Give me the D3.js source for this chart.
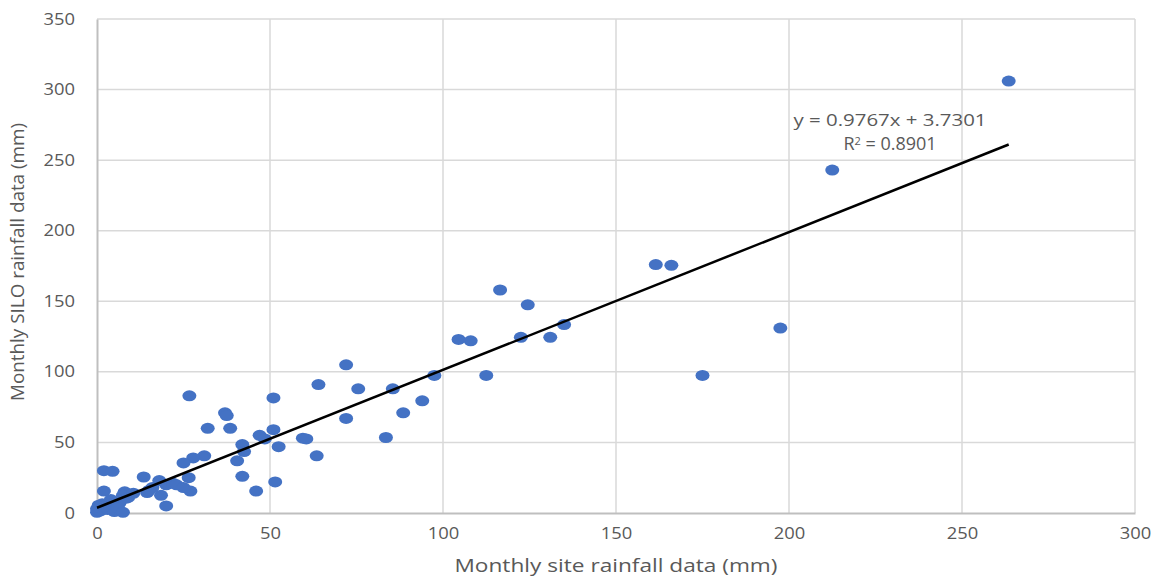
<!DOCTYPE html>
<html>
<head>
<meta charset="utf-8">
<script src="https://cdn.jsdelivr.net/npm/d3@7"></script>
<style>
  html, body { margin: 0; padding: 0; background: #ffffff; }
  svg { display: block; }
  text { font-family: "Open Sans", "Noto Sans", sans-serif; fill: #595959; }
</style>
</head>
<body>
<svg id="chart" width="1158" height="579"></svg>
<script>
// Monthly site rainfall (mm) against SILO rainfall (mm)
const siteRain = [
  263.5, 212.5, 161.5, 166, 197.5, 175, 116.5, 124.5, 135, 131, 122.5, 104.5, 108,
  112.5, 97.5, 94, 88.5, 85.5, 83.5, 72, 75.5, 72, 64, 63.5, 59.5, 60.5, 51, 51,
  52.5, 51.5, 47, 48.5, 46, 37, 37.5, 32, 38.5, 26.7, 42, 42.5, 40.5, 31, 27.8,
  25, 42, 27, 26.5, 20, 18.5, 13.5, 14.5, 16, 18, 20, 22, 23, 25, 15, 2, 4.5, 2,
  8, 7.5, 8.5, 5.5, 4, 6.5, 0.5, 1.5, 3.5, 0, 0, 1, 3, 5, 6, 7.5, 0.5, 2, 9, 10.5
];
const siloRain = [
  306, 243, 176, 175.5, 131, 97.5, 158, 147.5, 133.5, 124.5, 124.5, 123, 122,
  97.5, 97.5, 79.5, 71, 88, 53.5, 105, 88, 67, 91, 40.5, 53, 52.5, 81.5, 59,
  47, 22, 55, 52.5, 15.5, 71, 69, 60, 60, 83, 48.5, 43.5, 37, 40.5, 39,
  35.5, 26, 15.5, 25, 5, 12.5, 25.5, 14.5, 18, 23, 20, 21, 20, 18, 16, 30, 29.5, 15.5,
  15, 12.5, 10.5, 8, 9.5, 7, 5.5, 6.5, 6.5, 3, 0.5, 1.5, 2.5, 1, 3.5, 0.5, 4, 4.5, 11, 14
];
const xTicks = [0, 50, 100, 150, 200, 250, 300];
const yTicks = [0, 50, 100, 150, 200, 250, 300, 350];
const trendSlope = 0.9767;
const trendIntercept = 3.7301;
const rSquared = 0.8901;

const xTitle = "Monthly site rainfall data (mm)";
const yTitle = "Monthly SILO rainfall data (mm)";

const svg = d3.select("#chart");
const plot = { left: 97, right: 1135, top: 19, bottom: 513 };

const x = d3.scaleLinear().domain([0, 300]).range([plot.left, plot.right]);
const y = d3.scaleLinear().domain([0, 350]).range([plot.bottom, plot.top]);

// gridlines
const grid = svg.append("g");
grid.selectAll("line.h").data(yTicks.slice(1)).join("line")
  .attr("x1", plot.left).attr("x2", plot.right)
  .attr("y1", d => y(d)).attr("y2", d => y(d))
  .attr("stroke", "#d9d9d9").attr("stroke-width", 1.5);
grid.selectAll("line.v").data(xTicks.slice(1)).join("line")
  .attr("y1", plot.top).attr("y2", plot.bottom)
  .attr("x1", d => x(d)).attr("x2", d => x(d))
  .attr("stroke", "#d9d9d9").attr("stroke-width", 1.5);

// axes
const xAxis = svg.append("g").attr("transform", `translate(0,${plot.bottom})`)
  .call(d3.axisBottom(x).tickValues(xTicks).tickSize(0).tickPadding(15));
const yAxis = svg.append("g").attr("transform", `translate(${plot.left},0)`)
  .call(d3.axisLeft(y).tickValues(yTicks).tickSize(0).tickPadding(22));
[xAxis, yAxis].forEach(g => {
  g.select(".domain").attr("stroke", "#bfbfbf").attr("stroke-width", 2);
  g.selectAll("text").attr("font-size", 16).attr("fill", "#595959")
    .style("font-family", '"Open Sans", sans-serif')
    .attr("textLength", function () { return this.textContent.length * 10.5; })
    .attr("lengthAdjust", "spacingAndGlyphs");
});

// points
const pts = siteRain.map((v, i) => ({ sx: v, sy: siloRain[i] }));
svg.append("g").selectAll("ellipse").data(pts).join("ellipse")
  .attr("cx", d => x(d.sx)).attr("cy", d => y(d.sy))
  .attr("rx", 7).attr("ry", 5.5)
  .attr("fill", "#4472c4");

// linear trendline over the data range
const xMin = d3.min(siteRain), xMax = d3.max(siteRain);
svg.append("line")
  .attr("x1", x(xMin)).attr("y1", y(trendSlope * xMin + trendIntercept))
  .attr("x2", x(xMax)).attr("y2", y(trendSlope * xMax + trendIntercept))
  .attr("stroke", "#000").attr("stroke-width", 2.5);

// equation label
const eq = svg.append("g").attr("font-size", 17);
eq.append("text").attr("x", 890).attr("y", 126).attr("text-anchor", "middle")
  .attr("textLength", 193).attr("lengthAdjust", "spacingAndGlyphs")
  .text(`y = ${trendSlope}x + ${trendIntercept}`);
const r2 = eq.append("text").attr("x", 890).attr("y", 150).attr("text-anchor", "middle")
  .attr("font-size", 18);
r2.append("tspan").text("R");
r2.append("tspan").attr("dy", -5).attr("font-size", 11).text("2");
r2.append("tspan").attr("dy", 5).text(` = ${rSquared}`);

// axis titles
svg.append("text").attr("x", 616).attr("y", 572).attr("text-anchor", "middle")
  .attr("font-size", 18).attr("textLength", 323).attr("lengthAdjust", "spacingAndGlyphs")
  .text(xTitle);
svg.append("text").attr("transform", "translate(24,262) rotate(-90)")
  .attr("text-anchor", "middle").attr("font-size", 18)
  .attr("textLength", 278).attr("lengthAdjust", "spacingAndGlyphs")
  .text(yTitle);
</script>
</body>
</html>
